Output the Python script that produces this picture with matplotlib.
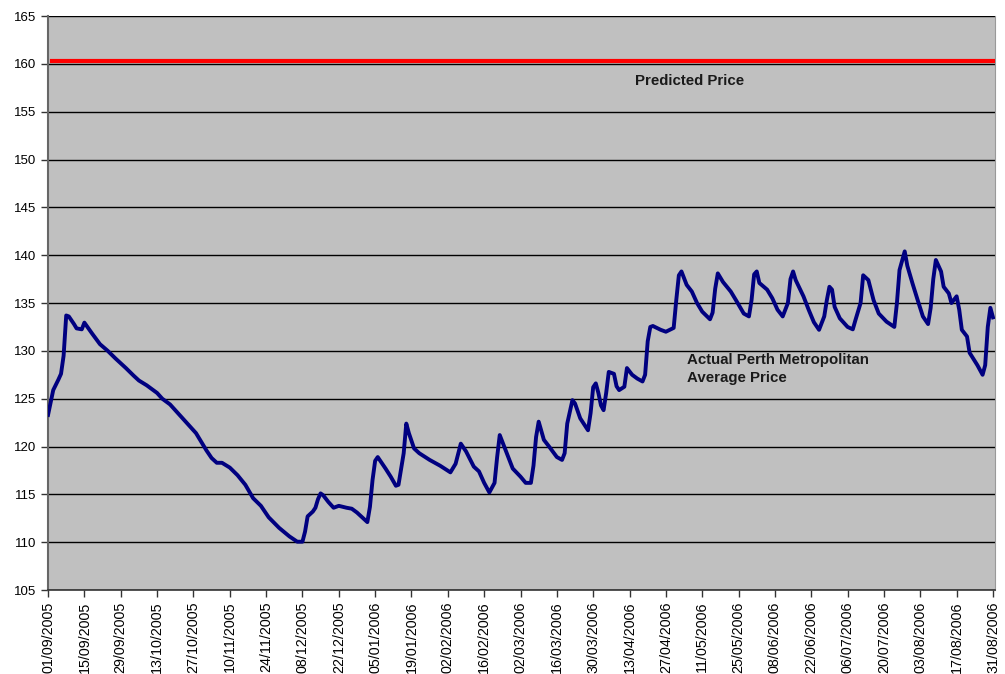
import matplotlib
matplotlib.use("Agg")
import matplotlib.pyplot as plt
import pandas as pd

# average price readings, days counted from 01/09/2005
days = [0, 2, 4, 5, 6, 7, 8, 10, 11, 13, 14, 17, 20, 23, 26, 30, 33, 35, 38, 42,
        44, 47, 50, 54, 57, 59, 61, 63, 65, 67, 70, 73, 76, 79, 82, 85, 89, 93, 96, 98,
        99, 100, 102, 103, 104, 105, 106, 108, 110, 112, 115, 117, 119, 121, 123, 124, 125, 126, 127, 130,
        132, 134, 135, 137, 138, 139, 141, 143, 147, 151, 155, 157, 159, 161, 164, 166, 168, 170, 172, 173,
        174, 175, 177, 179, 182, 184, 186, 187, 188, 189, 191, 193, 196, 198, 199, 200, 202, 203, 205, 208,
        209, 210, 211, 212, 213, 214, 215, 216, 218, 219, 220, 222, 223, 225, 227, 229, 230, 231, 232, 233,
        236, 238, 241, 242, 243, 244, 246, 248, 250, 252, 255, 256, 257, 258, 260, 263, 265, 268, 270, 271,
        272, 273, 274, 277, 279, 281, 283, 285, 286, 287, 288, 291, 293, 295, 297, 299, 300, 301, 302, 303,
        305, 308, 310, 311, 313, 314, 316, 318, 320, 323, 326, 327, 328, 330, 331, 333, 335, 337, 339, 340,
        341, 342, 344, 345, 347, 348, 350, 351, 352, 354, 355, 358, 360, 361, 362, 363, 364]
price = [123.3, 125.9, 127.0, 127.6, 129.5, 133.7, 133.6, 132.8, 132.35, 132.25, 132.95, 131.8, 130.7, 130.0, 129.2, 128.2, 127.4, 126.9, 126.4, 125.6,
         125.0, 124.4, 123.5, 122.3, 121.4, 120.5, 119.6, 118.8, 118.3, 118.3, 117.8, 117.0, 116.0, 114.6, 113.8, 112.6, 111.5, 110.6, 110.05, 110.05,
         111.1, 112.7, 113.2, 113.6, 114.5, 115.1, 114.9, 114.2, 113.6, 113.8, 113.6, 113.5, 113.1, 112.6, 112.1, 113.7, 116.5, 118.5, 118.9, 117.7,
         116.85, 115.9, 116.0, 119.3, 122.4, 121.4, 119.8, 119.3, 118.6, 118.0, 117.3, 118.2, 120.3, 119.5, 117.9, 117.4, 116.2, 115.2, 116.2, 118.9,
         121.2, 120.5, 119.1, 117.7, 116.85, 116.2, 116.2, 118.0, 121.0, 122.6, 120.7, 120.0, 118.9, 118.6, 119.3, 122.4, 124.85, 124.5, 122.95, 121.7,
         123.5, 126.2, 126.6, 125.6, 124.3, 123.8, 125.6, 127.8, 127.6, 126.3, 125.9, 126.25, 128.2, 127.5, 127.1, 126.8, 127.5, 131.0, 132.5, 132.6,
         132.2, 132.0, 132.4, 135.3, 137.9, 138.3, 136.9, 136.2, 135.0, 134.1, 133.3, 134.0, 136.5, 138.1, 137.2, 136.2, 135.3, 133.9, 133.6, 135.3,
         138.0, 138.3, 137.1, 136.4, 135.5, 134.3, 133.6, 135.0, 137.5, 138.3, 137.4, 135.7, 134.3, 133.0, 132.2, 133.6, 135.3, 136.7, 136.4, 134.6,
         133.4, 132.5, 132.25, 133.2, 135.0, 137.9, 137.4, 135.3, 133.9, 133.05, 132.5, 135.0, 138.45, 140.4, 138.9, 137.05, 135.3, 133.6, 132.8, 134.5,
         137.5, 139.5, 138.3, 136.7, 136.0, 135.0, 135.7, 134.3, 132.2, 131.5, 129.8, 128.5, 127.5, 128.5, 132.5, 134.5, 133.5]
predicted_price = 160.25

start = pd.Timestamp("2005-09-01")
dates = start + pd.to_timedelta(days, unit="D")

# fortnightly ticks, 01/09/2005 .. 31/08/2006
tick_dates = list(pd.date_range(start, "2006-08-31", freq="14D"))
tick_labels = [d.strftime("%d/%m/%Y") for d in tick_dates]

plt.rcParams["font.family"] = ["Liberation Sans", "DejaVu Sans"]

fig = plt.figure(figsize=(10.05, 6.74), dpi=100)
ax = fig.add_axes([0.0478, 0.1246, 0.9423, 0.8516])
ax.set_facecolor("#c0c0c0")

ax.set_ylim(105, 165)
ax.set_yticks(range(105, 166, 5))
ax.set_xlim(start, start + pd.Timedelta(days=364.8))
ax.set_xticks(tick_dates)
ax.set_xticklabels(tick_labels, rotation=90)
ax.tick_params(axis="both", length=5, width=1, colors="#333333", labelcolor="black")
ax.tick_params(axis="y", labelsize=9.5)
ax.tick_params(axis="x", labelsize=10.3)

ax.grid(axis="y", color="black", linewidth=1.0)
ax.set_axisbelow(True)

ax.axhline(predicted_price, xmin=0.004, color="#ff0000", linewidth=3.0, zorder=3)
ax.plot(dates, price, color="#000080", linewidth=2.8, zorder=4)

ax.text(start + pd.Timedelta(days=226), 158.2, "Predicted Price",
        fontsize=10.8, fontweight="bold", color="#1a1a1a", va="center")
ax.text(start + pd.Timedelta(days=246), 128.1, "Actual Perth Metropolitan\nAverage Price",
        fontsize=10.8, fontweight="bold", color="#1a1a1a", va="center", linespacing=1.3)

ax.spines["top"].set_visible(False)
ax.spines["right"].set_color("#999999")
ax.spines["left"].set_color("#666666")
ax.spines["left"].set_linewidth(1.5)
ax.spines["bottom"].set_color("#333333")
ax.spines["bottom"].set_linewidth(1.2)

fig.savefig("out.png", dpi=100)
